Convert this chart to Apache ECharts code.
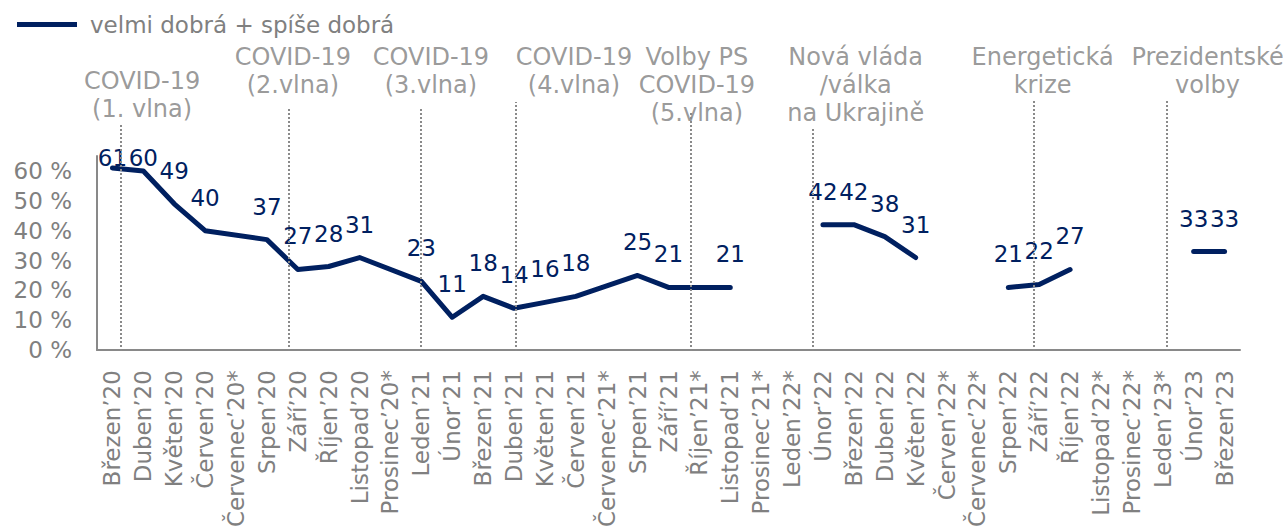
<!DOCTYPE html>
<html>
<head>
<meta charset="utf-8">
<script src="https://cdn.jsdelivr.net/npm/echarts@6/dist/echarts.min.js"></script>
<style>
  html, body { margin: 0; padding: 0; background: #fff; }
  #chart { width: 1288px; height: 530px; }
</style>
</head>
<body>
<div id="chart"></div>
<script>
// Hodnocení: velmi dobrá + spíše dobrá (%), měsíce s * bez měření
const categories = [
  'Březen’20', 'Duben’20', 'Květen’20', 'Červen’20', 'Červenec’20*', 'Srpen’20', 'Září’20',
  'Říjen’20', 'Listopad’20', 'Prosinec’20*', 'Leden’21', 'Únor’21', 'Březen’21', 'Duben’21',
  'Květen’21', 'Červen’21', 'Červenec’21*', 'Srpen’21', 'Září’21', 'Říjen’21*', 'Listopad’21',
  'Prosinec’21*', 'Leden’22*', 'Únor’22', 'Březen’22', 'Duben’22', 'Květen’22', 'Červen’22*',
  'Červenec’22*', 'Srpen’22', 'Září’22', 'Říjen’22', 'Listopad’22*', 'Prosinec’22*', 'Leden’23*',
  'Únor’23', 'Březen’23'
];
const values = [
  61, 60, 49, 40, null, 37, 27,
  28, 31, null, 23, 11, 18, 14,
  16, 18, null, 25, 21, null, 21,
  null, null, 42, 42, 38, 31, null,
  null, 21, 22, 27, null, null, null,
  33, 33
];
// continuous parts of the line (first and last category index)
const segments = [[0, 20], [23, 26], [29, 31], [35, 36]];

const yTicks = [0, 10, 20, 30, 40, 50, 60];
const seriesName = 'velmi dobrá + spíše dobrá';

// events: text and where the dotted line stands (in category widths from the left)
const eventNames = [
  'COVID-19\n(1. vlna)', 'COVID-19\n(2.vlna)', 'COVID-19\n(3.vlna)', 'COVID-19\n(4.vlna)',
  'Volby PS\nCOVID-19\n(5.vlna)', 'Nová vláda\n/válka\nna Ukrajině', 'Energetická\nkrize',
  'Prezidentské\nvolby'
];
const eventAt = [0.78, 6.21, 10.49, 13.56, 19.22, 23.17, 30.32, 34.63];

// layout of the event notes on the overlay grid
const eventLineTop = [76, 81, 81, 83, 80, 74.7, 83.7, 83.7];
const eventTextX = [1.46, 6.34, 10.81, 15.44, 19.42, 24.56, 30.61, 35.95];
const eventTextY = [85.2, 93.3, 93.3, 93.3, 88.7, 88.7, 93.3, 93.3];

const colors = {
  navy: '#002060',
  gray: '#808080',
  axis: '#898989',
  dotted: '#8a8a8a'
};
const font = 'DejaVu Sans';
const plotTop = 146; // labels may not stick out above this

const lineSeries = segments.map(([s, e]) => ({
  name: seriesName,
  type: 'line',
  data: values.map((v, i) => (i >= s && i <= e ? v : null)),
  connectNulls: true,
  symbol: 'circle',
  symbolSize: 1,
  itemStyle: { color: colors.navy },
  lineStyle: { color: colors.navy, width: 5, cap: 'round', join: 'round' },
  label: {
    show: true,
    position: 'top',
    distance: 21,
    color: colors.navy,
    fontSize: 23,
    fontFamily: font
  },
  // like Excel: keep labels inside the plot, push them down onto the line
  labelLayout: p => (p.labelRect.y < plotTop
    ? { y: plotTop, verticalAlign: 'top', align: 'center' }
    : {}),
  emphasis: { disabled: true },
  z: 3
}));

const eventSeries = {
  type: 'scatter',
  xAxisIndex: 1,
  yAxisIndex: 1,
  symbolSize: 0,
  silent: true,
  data: eventNames.map((n, i) => ({ name: n, value: [eventTextX[i], eventTextY[i]] })),
  label: {
    show: true,
    position: 'inside',
    formatter: '{b}',
    color: colors.gray,
    fontSize: 24,
    lineHeight: 28,
    fontFamily: font,
    align: 'center'
  },
  markLine: {
    silent: true,
    symbol: 'none',
    label: { show: false },
    lineStyle: { color: colors.dotted, width: 2, type: [2, 2] },
    data: eventAt.map((x, i) => [{ coord: [x, 0] }, { coord: [x, eventLineTop[i]] }])
  },
  z: 1
};

const chart = echarts.init(document.getElementById('chart'), null, { renderer: 'svg' });
chart.setOption({
  animation: false,
  textStyle: { fontFamily: font },
  legend: {
    data: [seriesName],
    left: 12,
    top: 8,
    icon: 'rect',
    itemWidth: 60,
    itemHeight: 5,
    itemStyle: { color: colors.navy },
    textStyle: { color: colors.gray, fontSize: 23, fontFamily: font, padding: [0, 0, 0, 8] }
  },
  grid: [
    { left: 97, right: 48, top: 156, bottom: 179 },
    { left: 97, right: 48, top: 21, bottom: 179 }
  ],
  xAxis: [
    {
      type: 'category',
      data: categories,
      boundaryGap: true,
      axisLine: { lineStyle: { color: colors.axis, width: 2 } },
      axisTick: { show: false },
      axisLabel: {
        interval: 0,
        rotate: 90,
        margin: 20,
        color: colors.gray,
        fontSize: 23,
        fontFamily: font
      }
    },
    { type: 'value', gridIndex: 1, min: 0, max: categories.length, show: false }
  ],
  yAxis: [
    {
      type: 'value',
      min: yTicks[0],
      max: 65,
      interval: yTicks[1] - yTicks[0],
      axisLine: { show: true, lineStyle: { color: colors.axis, width: 2 } },
      axisTick: { show: false },
      splitLine: { show: false },
      axisLabel: {
        formatter: '{value} %',
        showMaxLabel: false,
        margin: 25,
        color: colors.gray,
        fontSize: 23,
        fontFamily: font
      }
    },
    { type: 'value', gridIndex: 1, min: 0, max: 110, show: false }
  ],
  series: [eventSeries, ...lineSeries]
});
</script>
</body>
</html>
